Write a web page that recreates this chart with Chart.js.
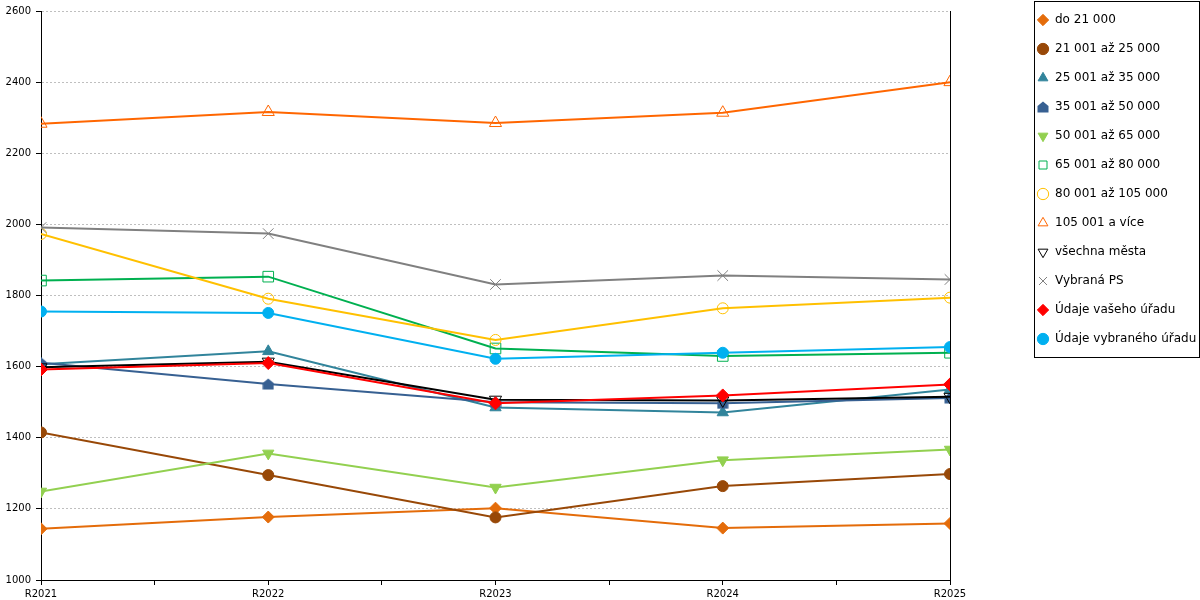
<!DOCTYPE html>
<html>
<head>
<meta charset="utf-8">
<script src="https://cdn.jsdelivr.net/npm/chart.js@4"></script>
<style>
  html, body { margin: 0; padding: 0; background: #fff; }
  #wrap { width: 1200px; height: 600px; }
</style>
</head>
<body>
<div id="wrap"><canvas id="c" width="1200" height="600"></canvas></div>
<script>
const categories = ['R2021', 'R2022', 'R2023', 'R2024', 'R2025'];
const seriesNames = ['do 21 000', '21 001 až 25 000', '25 001 až 35 000', '35 001 až 50 000',
  '50 001 až 65 000', '65 001 až 80 000', '80 001 až 105 000', '105 001 a více',
  'všechna města', 'Vybraná PS', 'Údaje vašeho úřadu', 'Údaje vybraného úřadu'];
const do21000 = [1144, 1177, 1202, 1146, 1159];
const s21001_25000 = [1415, 1295, 1176, 1264, 1298];
const s25001_35000 = [1607, 1643, 1485, 1471, 1536];
const s35001_50000 = [1611, 1551, 1500, 1497, 1512];
const s50001_65000 = [1249, 1356, 1260, 1337, 1367];
const s65001_80000 = [1842, 1853, 1651, 1630, 1639];
const s80001_105000 = [1973, 1791, 1675, 1764, 1794];
const s105001 = [2283, 2316, 2285, 2314, 2400];
const vsechnaMesta = [1598, 1614, 1507, 1505, 1515];
const vybranaPS = [1991, 1974, 1831, 1856, 1845];
const udajeVaseho = [1592, 1610, 1497, 1519, 1550];
const udajeVybraneho = [1755, 1751, 1622, 1639, 1655];
const yTicks = [1000, 1200, 1400, 1600, 1800, 2000, 2200, 2400, 2600];

// house-shaped marker (pentagon)
function houseMarker(color) {
  const c = document.createElement('canvas');
  c.width = 12; c.height = 12;
  const g = c.getContext('2d');
  g.fillStyle = color;
  g.beginPath();
  g.moveTo(6, 0.5); g.lineTo(11.5, 5); g.lineTo(11.5, 11.5); g.lineTo(0.5, 11.5); g.lineTo(0.5, 5);
  g.closePath(); g.fill();
  return c;
}

const seriesValues = [do21000, s21001_25000, s25001_35000, s35001_50000, s50001_65000, s65001_80000,
  s80001_105000, s105001, vsechnaMesta, vybranaPS, udajeVaseho, udajeVybraneho];
const styles = [
  { color: '#E46C0A', style: 'rectRot', r: 6, fill: true },
  { color: '#984807', style: 'circle', r: 5.5, fill: true },
  { color: '#31849B', style: 'triangle', r: 6.5, fill: true },
  { color: '#376092', style: houseMarker('#376092'), r: 6, fill: true },
  { color: '#92D050', style: 'triangle', r: 6.5, fill: true, rot: 180 },
  { color: '#00B050', style: 'rect', r: 7.5, fill: false },
  { color: '#FFC000', style: 'circle', r: 5.5, fill: false },
  { color: '#FF6600', style: 'triangle', r: 7, fill: false },
  { color: '#000000', style: 'triangle', r: 7, fill: false, rot: 180 },
  { color: '#808080', style: 'crossRot', r: 7.5, fill: false },
  { color: '#FF0000', style: 'rectRot', r: 6.5, fill: true },
  { color: '#00B0F0', style: 'circle', r: 5.5, fill: true }
];

const datasets = seriesValues.map((vals, i) => {
  const s = styles[i];
  return {
    label: seriesNames[i],
    data: vals.map((v, k) => ({ x: k, y: v })),
    borderColor: s.color,
    backgroundColor: s.color,
    borderWidth: 2,
    tension: 0,
    pointStyle: s.style,
    pointRadius: s.r,
    pointHoverRadius: s.r,
    pointRotation: s.rot || 0,
    pointBackgroundColor: s.fill ? s.color : 'rgba(0,0,0,0)',
    pointBorderColor: s.color,
    pointBorderWidth: 1,
    order: seriesValues.length - i
  };
});

const legendFrame = {
  id: 'legendFrame',
  afterLayout(chart) {
    const L = chart.legend;
    L.top -= 13; L.bottom -= 13;
  },
  afterDraw(chart) {
    const L = chart.legend;
    const pad = L.options.labels.padding;
    const fs = L.options.labels.font.size;
    const n = L.legendItems.length;
    const firstC = L.top + pad + fs / 2;
    const lastC = firstC + (n - 1) * (fs + pad);
    const ctx = chart.ctx;
    ctx.save();
    ctx.strokeStyle = '#000';
    ctx.lineWidth = 1;
    const x0 = Math.round(L.left + pad - 3) + 0.5;
    const y0 = Math.round(firstC - 19) + 0.5;
    const x1 = chart.width - 0.5;
    const y1 = Math.round(lastC + 18) + 0.5;
    ctx.strokeRect(x0, y0, x1 - x0, y1 - y0);
    ctx.restore();
  }
};

new Chart(document.getElementById('c'), {
  type: 'line',
  data: { datasets },
  plugins: [legendFrame],
  options: {
    responsive: false,
    animation: false,
    devicePixelRatio: 1,
    layout: { padding: { top: 10, left: 0, right: 0, bottom: 0 } },
    font: { family: 'DejaVu Sans' },
    plugins: {
      tooltip: { enabled: false },
      legend: {
        position: 'right',
        align: 'start',
        maxWidth: 180,
        labels: {
          usePointStyle: true,
          boxWidth: 12,
          boxHeight: 8,
          padding: 17,
          color: '#000',
          font: { family: 'DejaVu Sans', size: 12 },
          sort: (a, b) => a.datasetIndex - b.datasetIndex
        }
      }
    },
    scales: {
      x: {
        type: 'linear',
        min: 0,
        max: categories.length - 1,
        afterFit: (scale) => { scale.height = 20; },
        border: { display: true, color: '#000', width: 1 },
        grid: { drawOnChartArea: false, drawTicks: true, tickLength: 5, tickColor: '#000' },
        ticks: {
          stepSize: 0.5,
          autoSkip: false,
          maxRotation: 0,
          padding: 3,
          color: '#000',
          font: { family: 'DejaVu Sans', size: 10 },
          callback: (v) => Number.isInteger(v) ? categories[v] : ''
        }
      },
      y: {
        position: 'left',
        min: yTicks[0],
        max: yTicks[yTicks.length - 1],
        afterBuildTicks: (scale) => { scale.ticks = yTicks.map(v => ({ value: v })); },
        afterFit: (scale) => { scale.width = 41; },
        border: { display: true, color: '#000', width: 1, dash: [2, 2] },
        grid: { color: '#BFBFBF', drawTicks: true, tickLength: 5, tickColor: '#000', tickBorderDash: [] },
        ticks: {
          padding: 5, color: '#000', font: { family: 'DejaVu Sans', size: 10 },
          callback: (v) => String(v)
        }
      },
      y2: {
        position: 'right',
        min: yTicks[0],
        max: yTicks[yTicks.length - 1],
        afterFit: (scale) => { scale.width = 70; },
        border: { display: true, color: '#000', width: 1 },
        grid: { drawOnChartArea: false, drawTicks: false },
        ticks: { display: false }
      }
    }
  }
});
</script>
</body>
</html>
